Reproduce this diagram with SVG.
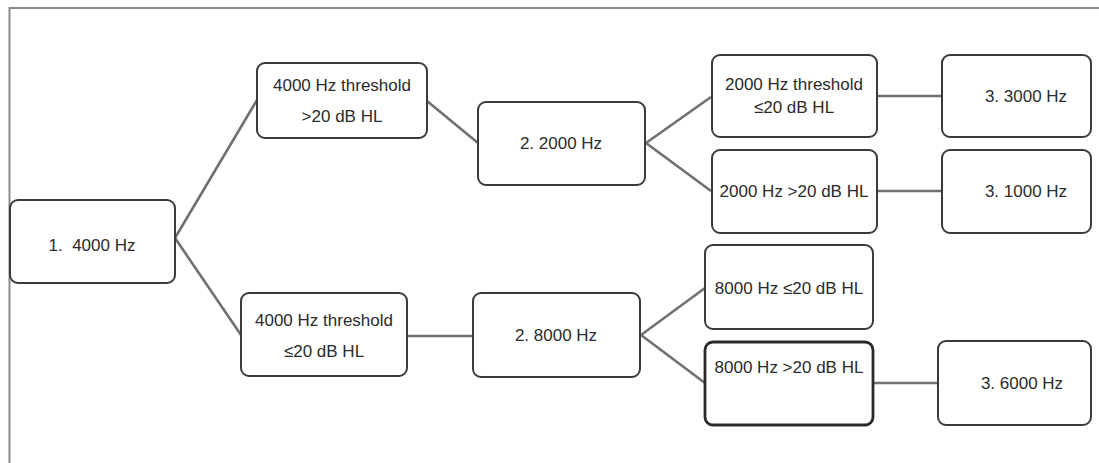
<svg xmlns="http://www.w3.org/2000/svg" width="1099" height="463" viewBox="0 0 1099 463">
<style>
.box{fill:#fff;stroke:#3a3a3a;stroke-width:2}
.bold{stroke-width:2.8;stroke:#2a2a2a}
.t{font-family:"Liberation Sans",Arial,sans-serif;font-size:17px;fill:#2b2b2b;text-anchor:middle}
.c{stroke:#707070;stroke-width:2.6;fill:none}
</style>
<rect width="1099" height="463" fill="#fff"/>
<path d="M9.5 463 V8 H1099" fill="none" stroke="#8a8a8a" stroke-width="2"/>
<g id="connectors">
<line class="c" x1="175" y1="238" x2="257" y2="100"/>
<line class="c" x1="175" y1="238" x2="241" y2="335"/>
<line class="c" x1="427" y1="101" x2="478" y2="143"/>
<line class="c" x1="646" y1="143" x2="711" y2="97"/>
<line class="c" x1="646" y1="143" x2="711" y2="191"/>
<line class="c" x1="877" y1="96" x2="942" y2="96"/>
<line class="c" x1="877" y1="191" x2="942" y2="191"/>
<line class="c" x1="407" y1="336" x2="473" y2="336"/>
<line class="c" x1="641" y1="335" x2="705" y2="288"/>
<line class="c" x1="641" y1="335" x2="705" y2="383"/>
<line class="c" x1="873" y1="383" x2="938" y2="383"/>
</g>
<g id="n1"><rect class="box" x="10" y="200" width="165" height="83" rx="8"/><text class="t" x="92" y="251" xml:space="preserve">1.  4000 Hz</text></g>
<g id="nA"><rect class="box" x="257" y="63" width="170" height="75" rx="8"/><text class="t" x="342" y="91">4000 Hz threshold</text><text class="t" x="342" y="122">&gt;20 dB HL</text></g>
<g id="nB"><rect class="box" x="241" y="293" width="166" height="83" rx="8"/><text class="t" x="324" y="326">4000 Hz threshold</text><text class="t" x="324" y="357">≤20 dB HL</text></g>
<g id="n2a"><rect class="box" x="478" y="102" width="167" height="83" rx="8"/><text class="t" x="561" y="149">2. 2000 Hz</text></g>
<g id="n2b"><rect class="box" x="473" y="293" width="167" height="84" rx="8"/><text class="t" x="556" y="341">2. 8000 Hz</text></g>
<g id="n2000le"><rect class="box" x="712" y="55" width="165" height="82" rx="8"/><text class="t" x="794" y="90">2000 Hz threshold</text><text class="t" x="794" y="113">≤20 dB HL</text></g>
<g id="n2000gt"><rect class="box" x="712" y="150" width="165" height="83" rx="8"/><text class="t" x="794" y="197">2000 Hz &gt;20 dB HL</text></g>
<g id="n3000"><rect class="box" x="942" y="55" width="149" height="82" rx="8"/><text class="t" x="1026" y="102">3. 3000 Hz</text></g>
<g id="n1000"><rect class="box" x="942" y="150" width="149" height="83" rx="8"/><text class="t" x="1026" y="197">3. 1000 Hz</text></g>
<g id="n8000le"><rect class="box" x="705" y="245" width="168" height="84" rx="8"/><text class="t" x="789" y="294">8000 Hz ≤20 dB HL</text></g>
<g id="n8000gt"><rect class="box bold" x="705" y="342" width="168" height="83" rx="8"/><text class="t" x="789" y="373">8000 Hz &gt;20 dB HL</text></g>
<g id="n6000"><rect class="box" x="938" y="341" width="153" height="84" rx="8"/><text class="t" x="1022" y="389">3. 6000 Hz</text></g>
</svg>
